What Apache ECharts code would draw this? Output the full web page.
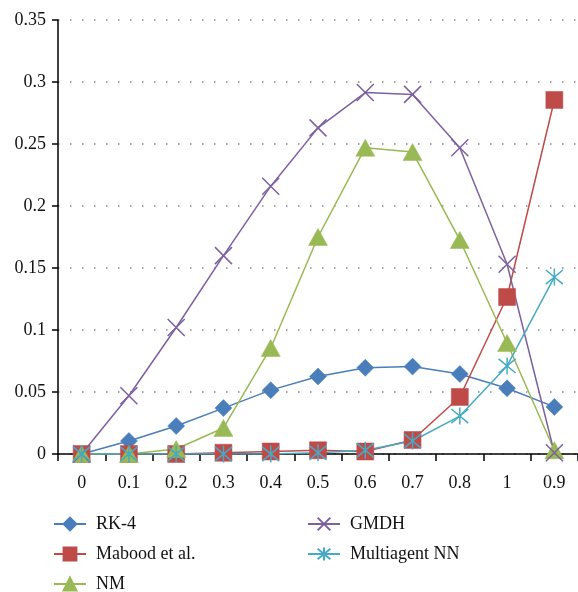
<!DOCTYPE html>
<html>
<head>
<meta charset="utf-8">
<script src="https://cdn.jsdelivr.net/npm/echarts@6/dist/echarts.min.js"></script>
<style type="text/css">
    html, body { margin: 0; padding: 0; background: #fff; }
    #chart { width: 578px; height: 592px; }
</style>
</head>
<body>
<div id="chart"></div>
<script>
    // x categories, kept in the order printed on the original axis
    var categories = ['0', '0.1', '0.2', '0.3', '0.4', '0.5', '0.6', '0.7', '0.8', '1', '0.9'];

    var rk4       = [0, 0.0105, 0.0226, 0.037, 0.0515, 0.0625, 0.0695, 0.0705, 0.0645, 0.053, 0.038];
    var mabood    = [0, 0, 0, 0.001, 0.002, 0.003, 0.002, 0.0113, 0.046, 0.1266, 0.2855];
    var nm        = [0, 0, 0.004, 0.021, 0.0855, 0.175, 0.247, 0.2435, 0.1726, 0.0895, 0.003];
    var gmdh      = [0, 0.047, 0.102, 0.16, 0.216, 0.263, 0.2915, 0.29, 0.247, 0.153, 0.001];
    var multiNN   = [0, 0, 0, 0, 0, 0.001, 0.003, 0.0105, 0.0306, 0.071, 0.1427];

    var yTicks = { min: 0, max: 0.35, interval: 0.05 };

    var fontFam = '"Liberation Serif", "DejaVu Serif", serif';
    var crossPath = 'path://M0,0L10,10M10,0L0,10';
    var starPath = 'path://M0,0L10,10M10,0L0,10M5,-1L5,11';

    function makeSeries(name, data, color, symbol, size, strokeOnly) {
        return {
            name: name,
            type: 'line',
            data: data,
            symbol: symbol,
            symbolSize: size,
            showAllSymbol: true,
            lineStyle: { color: color, width: 1.5 },
            itemStyle: strokeOnly ?
                { color: 'none', borderColor: color, borderWidth: 1.5 } :
                { color: color, borderColor: color, borderWidth: 0.5 },
            emphasis: { disabled: true },
            animation: false
        };
    }

    var chart = echarts.init(document.getElementById('chart'));
    var legendText = { fontFamily: fontFam, fontSize: 18, color: '#111', lineHeight: 16, padding: [0, 0, 0, 5] };

    chart.setOption({
        backgroundColor: '#fff',
        grid: { left: 58, right: 0, top: 20, bottom: 138, outerBoundsMode: 'none' },
        legend: [
            {
                orient: 'vertical', left: 53, top: 515, height: 120, padding: 0,
                itemWidth: 32, itemHeight: 16, itemGap: 12,
                textStyle: legendText,
                data: ['RK-4', 'Mabood et al.', 'NM']
            },
            {
                orient: 'vertical', left: 307, top: 515, height: 120, padding: 0,
                itemWidth: 32, itemHeight: 16, itemGap: 12,
                textStyle: legendText,
                data: ['GMDH', 'Multiagent NN']
            }
        ],
        xAxis: {
            type: 'category',
            data: categories,
            boundaryGap: true,
            axisLine: { lineStyle: { color: '#000', width: 1.5 } },
            axisTick: { show: true, length: 7, lineStyle: { color: '#000', width: 1.5 } },
            axisLabel: { color: '#111', fontFamily: fontFam, fontSize: 18, margin: 20 },
            splitLine: { show: false }
        },
        yAxis: {
            type: 'value',
            min: yTicks.min,
            max: yTicks.max,
            interval: yTicks.interval,
            axisLine: { show: true, lineStyle: { color: '#000', width: 1.5 } },
            axisTick: { show: true, length: 6, lineStyle: { color: '#000', width: 1.5 } },
            axisLabel: { color: '#111', fontFamily: fontFam, fontSize: 18, margin: 12 },
            splitLine: { show: true, lineStyle: { color: '#888', width: 1.5, type: [1.5, 10.5] } }
        },
        series: [
            makeSeries('RK-4', rk4, '#4A7EBB', 'diamond', [17, 17], false),
            makeSeries('Mabood et al.', mabood, '#BE4B48', 'rect', 17, false),
            makeSeries('NM', nm, '#98B954', 'triangle', [19, 17], false),
            makeSeries('GMDH', gmdh, '#7D60A0', crossPath, 17, true),
            makeSeries('Multiagent NN', multiNN, '#46AAC5', starPath, 17, true)
        ]
    });
</script>
</body>
</html>
